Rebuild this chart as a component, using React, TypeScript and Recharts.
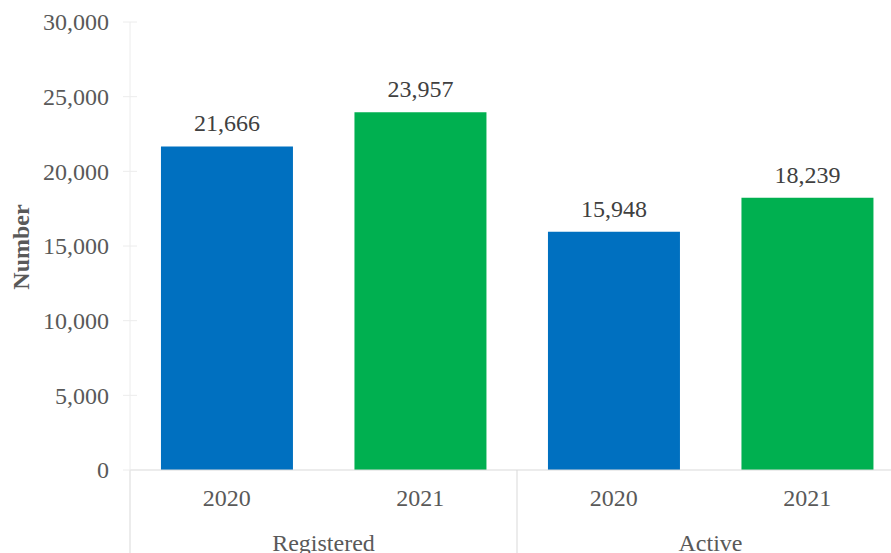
import { BarChart, Bar, XAxis, YAxis, Cell, LabelList } from "recharts";

// one bar per category, grouped by status
const groups = ["Registered", "Registered", "Active", "Active"];
const years = ["2020", "2021", "2020", "2021"];
const values = [21666, 23957, 15948, 18239];
const yTicks = [0, 5000, 10000, 15000, 20000, 25000, 30000];

const BAR_COLORS = ["#0070C0", "#00B050", "#0070C0", "#00B050"];

const data = values.map((v, i) => ({
  group: groups[i],
  year: years[i],
  value: v,
}));

const FONT = "'Liberation Serif', 'Times New Roman', serif";
const fmt = (n: number) => n.toLocaleString("en-US");

const YTick = (props: any) => {
  const { x, y, payload } = props;
  return (
    <g>
      <line x1={x - 7} x2={x + 7} y1={y} y2={y} stroke="#ececec" />
      <text
        x={x - 21}
        y={y}
        dy="0.35em"
        textAnchor="end"
        fill="#595959"
        fontSize={24}
        fontFamily={FONT}
      >
        {fmt(payload.value)}
      </text>
    </g>
  );
};

const YearTick = (props: any) => {
  const { x, y, payload } = props;
  return (
    <text
      x={x}
      y={y + 36}
      textAnchor="middle"
      fill="#595959"
      fontSize={24}
      fontFamily={FONT}
    >
      {payload.value}
    </text>
  );
};

const GroupTick = (props: any) => {
  const { x, y, payload, index, visibleTicksCount } = props;
  const half = payload.offset ?? 193.5;
  const last = index === (visibleTicksCount ?? 2) - 1;
  return (
    <g>
      <line x1={x - half} x2={x - half} y1={y - 55} y2={y + 60} stroke="#d9d9d9" />
      {last && (
        <line x1={x + half} x2={x + half} y1={y - 55} y2={y + 60} stroke="#d9d9d9" />
      )}
      <text
        x={x}
        y={y + 26}
        textAnchor="middle"
        fill="#595959"
        fontSize={24}
        fontFamily={FONT}
      >
        {payload.value}
      </text>
    </g>
  );
};

const AxisTitle = (props: any) => {
  const { viewBox } = props;
  const cy = viewBox.y + viewBox.height / 2 + 1;
  const cx = 29;
  return (
    <text
      x={cx}
      y={cy}
      textAnchor="middle"
      transform={`rotate(-90, ${cx}, ${cy})`}
      fill="#595959"
      fontSize={24}
      fontWeight="bold"
      fontFamily={FONT}
    >
      Number
    </text>
  );
};

const App = () => {
  return (
    <div
      style={{
        position: "fixed",
        left: 0,
        top: 0,
        width: 891,
        height: 553,
        overflow: "hidden",
        background: "#fff",
      }}
    >
      <BarChart
        width={910}
        height={580}
        data={data}
        margin={{ top: 22, right: 6, left: 0, bottom: 0 }}
        barCategoryGap="16%"
      >
        <XAxis
          dataKey="year"
          height={55}
          tickSize={0}
          tickMargin={0}
          tickLine={false}
          axisLine={{ stroke: "#d9d9d9" }}
          tick={<YearTick />}
          interval={0}
        />
        <XAxis
          xAxisId="group"
          dataKey="group"
          allowDuplicatedCategory={false}
          height={55}
          tickSize={0}
          tickMargin={0}
          tickLine={false}
          axisLine={false}
          tick={<GroupTick />}
          interval={0}
        />
        <YAxis
          width={130}
          domain={[0, 30000]}
          ticks={yTicks}
          interval={0}
          tickSize={0}
          tickMargin={0}
          tickLine={false}
          axisLine={{ stroke: "#ececec" }}
          tick={<YTick />}
          label={<AxisTitle />}
        />
        <Bar dataKey="value" isAnimationActive={false}>
          {data.map((entry, index) => (
            <Cell key={`cell-${index}`} fill={BAR_COLORS[index]} />
          ))}
          <LabelList
            dataKey="value"
            position="top"
            offset={15}
            formatter={(v: any) => fmt(Number(v))}
            style={{ fill: "#404040", fontSize: 24, fontFamily: FONT }}
          />
        </Bar>
      </BarChart>
    </div>
  );
};

export default App;
